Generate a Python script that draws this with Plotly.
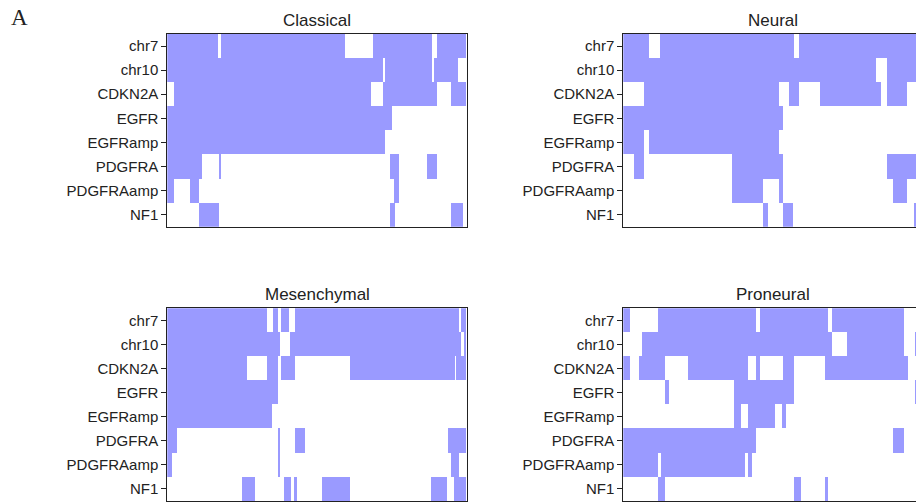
import plotly.graph_objects as go

W, H = 916, 503

GENES = ["chr7", "chr10", "CDKN2A", "EGFR", "EGFRamp", "PDGFRA", "PDGFRAamp", "NF1"]
TITLES = ["Classical", "Neural", "Mesenchymal", "Proneural"]

# altered sample spans per gene (sample position on a 0-100 scale across each panel)
CLASSICAL = [
    [[0, 17.0], [17.9, 59.6], [68.9, 88.5], [90.1, 100]],
    [[0, 72.1], [72.9, 88.5], [89.2, 97.2]],
    [[2.2, 68.3], [72.1, 90.1], [95.0, 100]],
    [[0, 75.2]],
    [[0, 72.7]],
    [[0, 11.7], [17.2, 18.0], [74.5, 77.4], [87.0, 90.1]],
    [[0, 2.2], [7.8, 10.7], [75.8, 77.4]],
    [[10.7, 17.2], [74.5, 76.1], [95.0, 98.7]],
]
NEURAL = [
    [[0, 8.7], [12.3, 57.1], [58.8, 100]],
    [[0, 84.6], [88.2, 100]],
    [[7.0, 52.1], [55.6, 58.8], [65.9, 86.3], [88.2, 95.0]],
    [[0, 53.4]],
    [[0, 7.0], [8.7, 52.1]],
    [[3.6, 7.0], [36.4, 53.4], [88.2, 100]],
    [[36.4, 46.8], [52.1, 53.4], [90.2, 95.0]],
    [[46.8, 48.5], [53.5, 56.9], [97.2, 100]],
]
MESENCHYMAL = [
    [[0, 33.4], [35.4, 37.1], [38.2, 40.8], [42.7, 97.4], [98.3, 100]],
    [[0, 37.9], [41.0, 98.3], [99.1, 100]],
    [[0, 26.7], [33.4, 37.1], [38.2, 42.7], [61.2, 96.1], [96.6, 100]],
    [[0, 37.1]],
    [[0, 35.2]],
    [[0, 3.3], [37.1, 37.9], [42.7, 46.2], [93.9, 100]],
    [[0, 1.8], [37.1, 37.9], [94.8, 97.4]],
    [[25.0, 29.5], [39.0, 41.5], [42.4, 43.4], [51.9, 61.2], [88.3, 93.5], [95.8, 100]],
]
PRONEURAL = [
    [[0, 2.5], [11.7, 44.3], [45.7, 68.5], [69.9, 93.9]],
    [[6.3, 69.9], [74.8, 93.9], [97.6, 100]],
    [[0, 2.5], [5.3, 13.9], [21.7, 41.8], [44.5, 45.9], [53.3, 57.1], [67.4, 95.2]],
    [[13.9, 15.2], [37.0, 57.1], [97.6, 100]],
    [[37.0, 39.4], [41.8, 50.7], [53.2, 54.5]],
    [[0, 44.3], [90.2, 93.9]],
    [[0, 11.7], [12.8, 40.6], [41.8, 43.2]],
    [[11.7, 13.9], [57.1, 59.6], [67.4, 68.5]],
]
PANELS = [CLASSICAL, NEURAL, MESENCHYMAL, PRONEURAL]

BLUE = "#9a9aff"
INK = "#222222"
TICKFONT = dict(family="Liberation Sans, Arial, sans-serif", size=15, color=INK)

# panel geometry in pixels
LEFT_X = (167.3, 466.7)
RIGHT_X = (623.3, 916.0)
TOP_Y = (34.0, 226.7)
BOT_Y = (308.3, 501.0)
PX_PER_UNIT = (466.7 - 167.3) / 100.0

geo = [(LEFT_X, TOP_Y, False), (RIGHT_X, TOP_Y, True),
       (LEFT_X, BOT_Y, False), (RIGHT_X, BOT_Y, True)]

fig = go.Figure()
layout = dict(
    width=W, height=H, margin=dict(l=0, r=0, t=0, b=0),
    paper_bgcolor="white", plot_bgcolor="white",
    barmode="overlay", bargap=0, showlegend=False,
)
annotations = []

for i, (title, data, (gx, gy, cut)) in enumerate(zip(TITLES, PANELS, geo)):
    k = "" if i == 0 else str(i + 1)
    ys, bases, lens = [], [], []
    for g, spans in zip(GENES, data):
        for s, e in spans:
            ys.append(g)
            bases.append(s)
            lens.append(e - s)
    fig.add_trace(go.Bar(
        orientation="h", y=ys, x=lens, base=bases, width=1.0,
        marker=dict(color=BLUE, line=dict(width=0)),
        xaxis="x" + k, yaxis="y" + k, hoverinfo="skip", showlegend=False,
    ))
    xmax = (gx[1] - gx[0]) / PX_PER_UNIT if cut else 100
    layout["xaxis" + k] = dict(
        domain=[gx[0] / W, gx[1] / W], range=[0, xmax], anchor="y" + k,
        showticklabels=False, ticks="", showgrid=False, zeroline=False,
        showline=True, mirror=True, linecolor=INK, linewidth=1, fixedrange=True,
    )
    layout["yaxis" + k] = dict(
        domain=[1 - gy[1] / H, 1 - gy[0] / H], anchor="x" + k,
        type="category", categoryorder="array", categoryarray=GENES,
        range=[len(GENES) - 0.5, -0.5],
        ticks="outside", ticklen=5, tickwidth=1, tickcolor=INK,
        tickfont=TICKFONT, showgrid=False, zeroline=False,
        showline=True, mirror=not cut, linecolor=INK, linewidth=1,
    )
    cx = (gx[0] + gx[0] + 100 * PX_PER_UNIT) / 2
    annotations.append(dict(
        text=title, x=cx / W, y=1 - (gy[0] - 13.5) / H, xref="paper", yref="paper",
        xanchor="center", yanchor="middle", showarrow=False,
        font=dict(family="Liberation Sans, Arial, sans-serif", size=17, color=INK),
    ))

annotations.append(dict(
    text="A", x=9 / W, y=1 - 3 / H, xref="paper", yref="paper",
    xanchor="left", yanchor="top", showarrow=False,
    font=dict(family="Liberation Serif, Times New Roman, serif", size=23, color=INK),
))
layout["annotations"] = annotations
fig.update_layout(**layout)
fig.write_html("out.html")
